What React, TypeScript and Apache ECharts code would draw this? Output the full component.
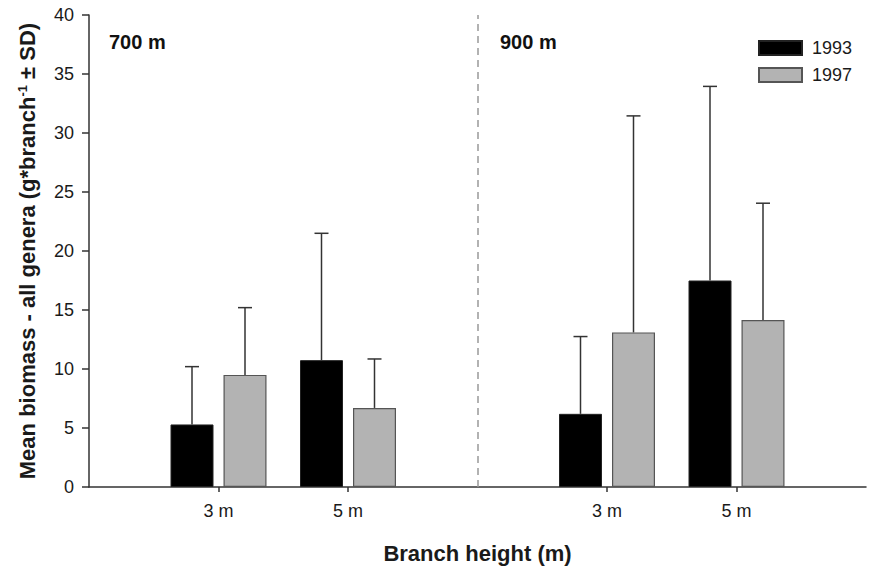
import React, { useEffect, useRef } from "react";
import * as echarts from "echarts";

const sites = ["700 m", "900 m"];
const heights = ["3 m", "5 m"];
const years = ["1993", "1997"];
// order: 700 m 3 m, 700 m 5 m, 900 m 3 m, 900 m 5 m
const mean1993 = [5.3, 10.75, 6.2, 17.5];
const sd1993 = [4.9, 10.75, 6.55, 16.45];
const mean1997 = [9.5, 6.7, 13.1, 14.15];
const sd1997 = [5.7, 4.15, 18.35, 9.9];
const yMin = 0;
const yMax = 40;
const yStep = 5;

const FONT = "'Liberation Sans', Arial, Helvetica, sans-serif";

// category slots: start, site heights..., divider, ..., end
const cats: string[] = ["start"];
const slotIndex: number[] = [];
sites.forEach((s, i) => {
  heights.forEach((h) => {
    slotIndex.push(cats.length);
    cats.push(s + "|" + h);
  });
  cats.push(i < sites.length - 1 ? "divider" : "end");
});

function slotData(values: number[]) {
  const arr: (number | null)[] = cats.map(() => null);
  values.forEach((v, k) => {
    arr[slotIndex[k]] = v;
  });
  return arr;
}

const BAR_W = 43;
const BAR_GAP = 10;
const OFFSET = (BAR_W + BAR_GAP) / 2;

function errorSeries(name: string, means: number[], sds: number[], sign: number, extra: any = {}) {
  return {
    type: "custom",
    name: name + " SD",
    z: 5,
    silent: true,
    data: means.map((m, k) => [slotIndex[k], m, sds[k]]),
    encode: { x: 0, y: [1, 2] },
    renderItem: (params: any, api: any) => {
      const idx = api.value(0);
      const m = api.value(1);
      const sd = api.value(2);
      const base = api.coord([idx, m]);
      const top = api.coord([idx, m + sd]);
      const x = base[0] + sign * OFFSET;
      const st = { stroke: "#333", lineWidth: 1.5 };
      return {
        type: "group",
        children: [
          { type: "line", shape: { x1: x, y1: base[1], x2: x, y2: top[1] }, style: st },
          { type: "line", shape: { x1: x - 7, y1: top[1], x2: x + 7, y2: top[1] }, style: st },
        ],
      };
    },
    ...extra,
  };
}

export default function App() {
  const ref = useRef<HTMLDivElement>(null);
  useEffect(() => {
    if (!ref.current) return;
    const chart = echarts.init(ref.current, undefined, { renderer: "svg" });
    chart.setOption({
      animation: false,
      backgroundColor: "#ffffff",
      textStyle: { fontFamily: FONT },
      grid: { left: 89, right: -4, top: 15, bottom: 82 },
      legend: {
        data: years,
        orient: "vertical",
        left: 758,
        top: 39,
        padding: 0,
        itemWidth: 43,
        itemHeight: 14,
        itemGap: 9,
        icon: "rect",
        textStyle: { fontSize: 18, color: "#1a1a1a", fontFamily: FONT, padding: [0, 0, 0, 5] },
      },
      xAxis: {
        type: "category",
        data: cats,
        boundaryGap: false,
        name: "Branch height (m)",
        nameLocation: "middle",
        nameGap: 55,
        nameTextStyle: { fontSize: 22, fontWeight: "bold", color: "#1a1a1a", fontFamily: FONT },
        axisLine: { lineStyle: { color: "#333", width: 1.5 } },
        axisTick: {
          show: true,
          length: 5,
          interval: (i: number, v: string) => v.indexOf("|") >= 0,
          lineStyle: { color: "#333", width: 1.5 },
        },
        axisLabel: {
          interval: 0,
          margin: 15,
          fontSize: 18,
          color: "#1a1a1a",
          fontFamily: FONT,
          formatter: (v: string) => (v.indexOf("|") >= 0 ? v.split("|")[1] : ""),
        },
        splitLine: { show: false },
      },
      yAxis: {
        type: "value",
        min: yMin,
        max: yMax,
        interval: yStep,
        name: "Mean biomass - all genera (g*branch{sup|-1} ± SD)",
        nameLocation: "middle",
        nameGap: 51,
        nameTextStyle: {
          fontSize: 22,
          fontWeight: "bold",
          color: "#1a1a1a",
          fontFamily: FONT,
          rich: {
            sup: { fontSize: 13, fontWeight: "bold", color: "#1a1a1a", fontFamily: FONT, verticalAlign: "top", lineHeight: 10 },
          },
        },
        axisLine: { show: true, lineStyle: { color: "#333", width: 1.5 } },
        axisTick: { show: true, length: 7, lineStyle: { color: "#333", width: 1.5 } },
        axisLabel: { fontSize: 18, color: "#1a1a1a", margin: 15, fontFamily: FONT },
        splitLine: { show: false },
      },
      graphic: [
        {
          type: "text",
          left: 109,
          top: 32,
          style: { text: sites[0], font: `bold 20px ${FONT}`, fill: "#111" },
        },
        {
          type: "text",
          left: 500,
          top: 32,
          style: { text: sites[1], font: `bold 20px ${FONT}`, fill: "#111" },
        },
      ],
      series: [
        {
          type: "bar",
          name: years[0],
          data: slotData(mean1993),
          barWidth: BAR_W,
          barGap: (BAR_GAP / BAR_W) * 100 + "%",
          itemStyle: { color: "#000000", borderColor: "#222", borderWidth: 1 },
        },
        {
          type: "bar",
          name: years[1],
          data: slotData(mean1997),
          barWidth: BAR_W,
          itemStyle: { color: "#b3b3b3", borderColor: "#555", borderWidth: 1.2 },
        },
        errorSeries(years[0], mean1993, sd1993, -1, {
          markLine: {
            silent: true,
            symbol: "none",
            label: { show: false },
            lineStyle: { color: "#999", type: [7, 5], width: 1.5 },
            data: [{ xAxis: "divider" }],
          },
        }),
        errorSeries(years[1], mean1997, sd1997, 1),
      ],
    });
    return () => chart.dispose();
  }, []);
  return <div ref={ref} style={{ position: "absolute", left: 0, top: 0, width: 869, height: 569 }} />;
}
